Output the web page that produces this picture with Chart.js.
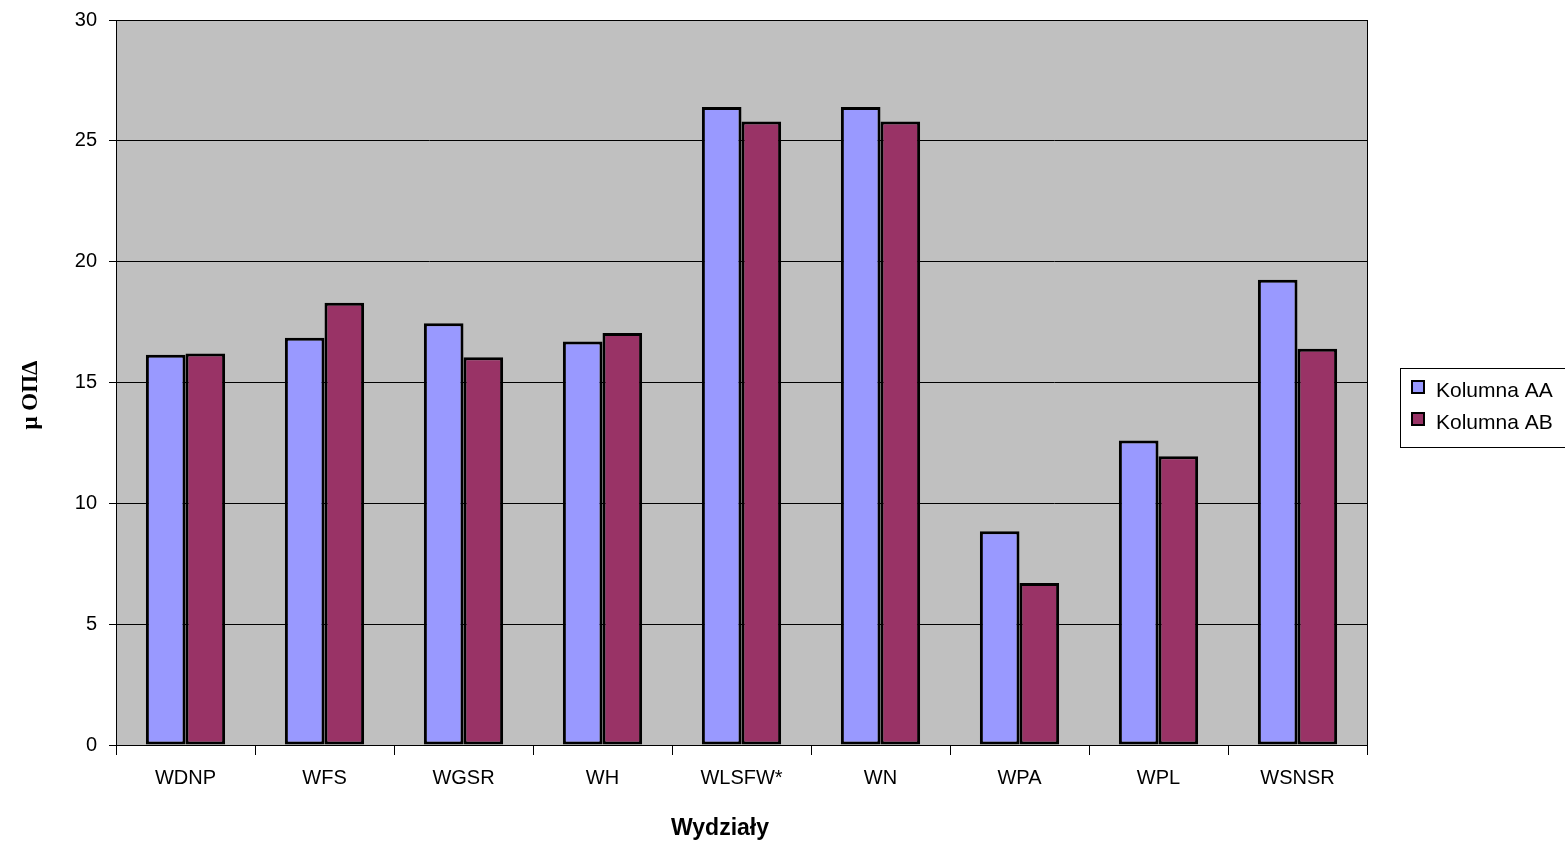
<!DOCTYPE html>
<html>
<head>
<meta charset="utf-8">
<script src="https://cdn.jsdelivr.net/npm/chart.js@4"></script>
<style>
  html, body { margin: 0; padding: 0; background: #ffffff; }
  #wrap { width: 1565px; height: 845px; position: relative; }
</style>
</head>
<body>
<div id="wrap"><canvas id="c" width="1565" height="845"></canvas></div>
<script>
const categories = ["WDNP", "WFS", "WGSR", "WH", "WLSFW*", "WN", "WPA", "WPL", "WSNSR"];
const seriesNames = ["Kolumna AA", "Kolumna AB"];
const valuesAA = [16.15, 16.85, 17.45, 16.7, 26.4, 26.4, 8.85, 12.6, 19.25];
const valuesAB = [16.2, 18.3, 16.05, 17.05, 25.8, 25.8, 6.7, 11.95, 16.4];
const yTicks = [0, 5, 10, 15, 20, 25, 30];
const xTitle = "Wydziały";
const yTitle = "μ ΟΠΔ";

const colors = ["#9999FF", "#993366"];
const FONT = "'Liberation Sans', Arial, sans-serif";
const SERIF = "'Liberation Serif', 'Times New Roman', serif";

const decor = {
  id: 'decor',
  beforeDraw(chart) {
    const { ctx, chartArea: a } = chart;
    ctx.save();
    ctx.fillStyle = '#C0C0C0';
    ctx.fillRect(a.left, a.top, a.right - a.left, a.bottom - a.top);
    ctx.restore();
  },
  afterDraw(chart) {
    const { ctx, chartArea: a } = chart;
    ctx.save();
    ctx.strokeStyle = '#000';
    ctx.lineWidth = 1;
    ctx.strokeRect(a.left + 0.5, a.top + 0.5, a.right - a.left, a.bottom - a.top);

    // axis titles
    ctx.fillStyle = '#000';
    ctx.textAlign = 'center';
    ctx.textBaseline = 'middle';
    ctx.font = "bold 23px " + FONT;
    ctx.fillText(xTitle, 720, 829);
    ctx.save();
    ctx.translate(31, 395);
    ctx.rotate(-Math.PI / 2);
    ctx.font = "bold 23px " + SERIF;
    ctx.fillText(yTitle, 0, 0);
    ctx.restore();

    // legend
    const lx = 1400, ly = 368, lw = 170, lh = 79;
    ctx.fillStyle = '#fff';
    ctx.fillRect(lx, ly, lw, lh);
    ctx.strokeStyle = '#000';
    ctx.lineWidth = 1;
    ctx.strokeRect(lx + 0.5, ly + 0.5, lw, lh);
    ctx.font = "21px " + FONT;
    ctx.textAlign = 'left';
    ctx.textBaseline = 'middle';
    chart.data.datasets.forEach((ds, i) => {
      const cy = 391 + i * 32;
      ctx.fillStyle = ds.backgroundColor;
      ctx.fillRect(lx + 12, cy - 10, 12, 12);
      ctx.lineWidth = 2;
      ctx.strokeStyle = '#000';
      ctx.strokeRect(lx + 12, cy - 10, 12, 12);
      ctx.fillStyle = '#000';
      ctx.fillText(ds.label, lx + 36, cy);
    });
    ctx.restore();
  }
};

new Chart(document.getElementById('c'), {
  type: 'bar',
  data: {
    labels: categories,
    datasets: [
      { label: seriesNames[0], data: valuesAA, backgroundColor: colors[0], borderColor: '#000', borderWidth: 3, borderSkipped: false },
      { label: seriesNames[1], data: valuesAB, backgroundColor: colors[1], borderColor: '#000', borderWidth: 3, borderSkipped: false }
    ]
  },
  options: {
    responsive: false,
    animation: false,
    devicePixelRatio: 1,
    layout: { padding: { left: 0, top: 20, right: 198, bottom: 0 } },
    datasets: { bar: { categoryPercentage: 0.57, barPercentage: 1.0 } },
    plugins: { legend: { display: false }, tooltip: { enabled: false } },
    scales: {
      x: {
        offset: true,
        grid: { offset: true, drawOnChartArea: false, drawTicks: true, tickLength: 10, color: '#000', lineWidth: 1 },
        border: { color: '#000' },
        ticks: { color: '#000', font: { family: FONT, size: 20 }, padding: 11, maxRotation: 0, autoSkip: false },
        afterFit(scale) { scale.height = 100; scale.paddingLeft = 0; scale.paddingRight = 0; }
      },
      y: {
        min: 0, max: 30,
        afterBuildTicks(scale) { scale.ticks = yTicks.map(v => ({ value: v })); },
        grid: { color: '#000', lineWidth: 1, drawTicks: true, tickLength: 7 },
        border: { color: '#000' },
        ticks: { color: '#000', font: { family: FONT, size: 20 }, padding: 12 },
        afterFit(scale) { scale.width = 116; scale.paddingTop = 0; scale.paddingBottom = 0; }
      }
    }
  },
  plugins: [decor]
});
</script>
</body>
</html>
